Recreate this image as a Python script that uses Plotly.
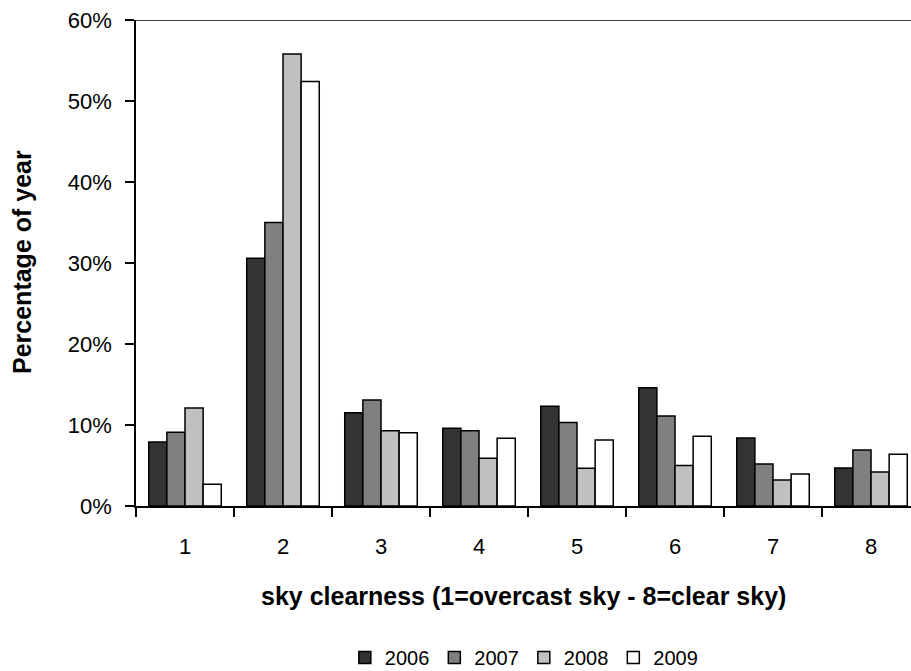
import plotly.graph_objects as go

categories = ["1", "2", "3", "4", "5", "6", "7", "8"]
y2006 = [7.9, 30.6, 11.5, 9.6, 12.3, 14.6, 8.4, 4.7]
y2007 = [9.1, 35.0, 13.1, 9.3, 10.3, 11.1, 5.2, 6.9]
y2008 = [12.1, 55.8, 9.3, 5.9, 4.65, 5.0, 3.2, 4.2]
y2009 = [2.7, 52.4, 9.05, 8.35, 8.15, 8.6, 3.95, 6.4]
series_names = ["2006", "2007", "2008", "2009"]
colors = ["#333333", "#808080", "#c0c0c0", "#ffffff"]
ytick_vals = [0, 10, 20, 30, 40, 50, 60]
ytick_text = [f"{v}%" for v in ytick_vals]

FONT = "Liberation Sans, Arial, sans-serif"

fig = go.Figure()
for name, vals, col in zip(series_names, [y2006, y2007, y2008, y2009], colors):
    fig.add_trace(go.Bar(
        x=categories, y=vals, name=name,
        marker=dict(color=col, line=dict(color="black", width=1.5)),
    ))

fig.update_layout(
    width=911, height=671,
    barmode="group", bargap=0.26, bargroupgap=0,
    paper_bgcolor="white", plot_bgcolor="white",
    margin=dict(l=136, r=0, t=20, b=165),
    font=dict(family=FONT, color="black"),
    showlegend=True,
    legend=dict(orientation="h", xref="container", yref="container",
                x=0.575, xanchor="center", y=0.02, yanchor="middle",
                font=dict(size=20, family=FONT), itemwidth=30,
                traceorder="normal"),
    xaxis=dict(type="category", range=[-0.5, 7.408], tickson="boundaries",
               ticks="outside", ticklen=9, tickwidth=1.5, tickcolor="black",
               showline=True, linecolor="black", linewidth=1.5,
               showgrid=False, tickfont=dict(size=22, family=FONT),
               ticklabelstandoff=20, fixedrange=True),
    yaxis=dict(range=[0, 60], tickmode="array", tickvals=ytick_vals,
               ticktext=ytick_text,
               ticks="outside", ticklen=9, tickwidth=1.5, tickcolor="black",
               showline=True, linecolor="black", linewidth=1.5,
               showgrid=False, zeroline=False, ticklabelstandoff=9,
               tickfont=dict(size=22, family=FONT)),
    shapes=[dict(type="line", xref="paper", yref="y", x0=-0.012, x1=1,
                 y0=60, y1=60, line=dict(color="black", width=1.5))],
    annotations=[
        dict(text="<b>sky clearness (1=overcast sky - 8=clear sky)</b>",
             xref="paper", yref="paper", x=0.5, y=-(596 - 506) / 486,
             xanchor="center", yanchor="middle", showarrow=False,
             font=dict(size=25, family=FONT)),
        dict(text="<b>Percentage of year</b>", textangle=-90,
             xref="paper", yref="paper", x=-(136 - 22) / 775, y=(506 - 262) / 486,
             xanchor="center", yanchor="middle", showarrow=False,
             font=dict(size=25, family=FONT)),
    ],
)

fig.write_html(
    "out.html",
    config={"displayModeBar": False},
    post_script="document.body.style.margin='0';document.body.style.overflow='hidden';",
)
